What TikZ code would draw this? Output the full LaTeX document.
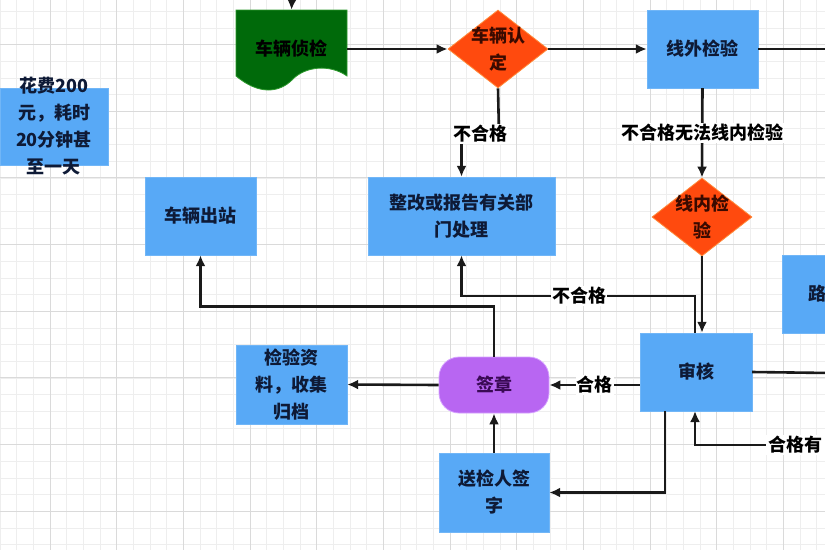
\documentclass[tikz,border=0pt]{standalone}
\usepackage{fontspec}
\newfontfamily\cjk{Noto Sans CJK SC}
\usetikzlibrary{shapes.geometric,arrows.meta}
\definecolor{boxblue}{HTML}{58A9F6}
\definecolor{boxtext}{HTML}{0E1A36}
\definecolor{docgreen}{HTML}{006A0A}
\definecolor{docedge}{HTML}{2E9A2E}
\definecolor{dia}{HTML}{FF4A0E}
\definecolor{diaedge}{HTML}{FF8A3A}
\definecolor{diatext}{HTML}{3A0A00}
\definecolor{purp}{HTML}{B866F2}
\definecolor{purpedge}{HTML}{D6A2FF}
\definecolor{purptext}{HTML}{3A0A55}
\definecolor{gridminor}{HTML}{EEEEEE}
\definecolor{gridmajor}{HTML}{DADADA}
\definecolor{lineclr}{HTML}{1A1A1A}
\begin{document}
\begin{tikzpicture}[x=1pt,y=-1pt,
  txt/.style={font=\cjk\bfseries\fontsize{18}{27}\selectfont, align=center},
  box/.style={txt, rectangle, fill=boxblue, draw=boxblue!85!white, text=boxtext, inner sep=0pt},
  dec/.style={diamond, fill=dia, draw=diaedge, line width=0.8pt, inner sep=0pt},
  dectext/.style={txt, text=diatext},
  conn/.style={draw=lineclr, line width=2.6pt},
  arr/.style={conn, -{Latex[length=11pt,width=10pt]}},
  lab/.style={txt, text=black, fill=white, inner sep=1pt}
]
\useasboundingbox (0,0) rectangle (825,550);
\fill[white] (0,0) rectangle (825,550);
% grid
\foreach \i in {-3,...,50} { \draw[gridminor, line width=0.6pt] ({50+\i*16.667},0) -- ({50+\i*16.667},550); }
\foreach \i in {-3,...,33} { \draw[gridminor, line width=0.6pt] (0,{44.5+\i*16.667}) -- (825,{44.5+\i*16.667}); }
\foreach \i in {-1,...,12} { \draw[gridmajor, line width=0.7pt] ({50+\i*66.667},0) -- ({50+\i*66.667},550); }
\foreach \i in {-1,...,8} { \draw[gridmajor, line width=0.7pt] (0,{44.5+\i*66.667}) -- (825,{44.5+\i*66.667}); }

% nodes
\node[box, minimum width=108pt, minimum height=77pt,
  label={[txt, text=boxtext]center:花费200\\元，耗时\\20分钟甚\\至一天}] (fee) at (54,126.5) {};

\fill[docgreen, draw=docedge, line width=0.8pt] (236,10) -- (347,10) -- (347,76)
  .. controls (330,64) and (305,66) .. (292,80)
  .. controls (280,92) and (260,96) .. (236,76) -- cycle;
\node[txt, minimum width=111pt, minimum height=78pt, text=black] (doc) at (291.5,49) {车辆侦检};

\node[dec, minimum width=100pt, minimum height=78pt,
  label={[dectext]center:车辆认\\定}] (chk) at (498,49) {};
\node[box, minimum width=111pt, minimum height=78pt] (out) at (702.5,49) {线外检验};
\node[box, minimum width=187pt, minimum height=78pt] (fix) at (461.5,216) {整改或报告有关部\\门处理};
\node[box, minimum width=111pt, minimum height=78pt] (exit) at (200.5,216) {车辆出站};
\node[dec, minimum width=100pt, minimum height=78pt,
  label={[dectext]center:线内检\\验}] (inl) at (702,217) {};
\node[box, minimum width=112pt, minimum height=78pt] (rev) at (696,372) {审核};
\node[box, minimum width=112pt, minimum height=78pt,
  label={[txt, text=boxtext, anchor=west, xshift=23pt]west:路}] (road) at (838,294) {};
\node[txt, rectangle, rounded corners=20pt, fill=purp, draw=purpedge, line width=0.8pt,
  text=purptext, minimum width=110pt, minimum height=56pt, inner sep=0pt] (stamp) at (494,385) {签章};
\node[box, minimum width=111pt, minimum height=79pt] (arch) at (291.5,384.5) {检验资\\料，收集\\归档};
\node[box, minimum width=110pt, minimum height=79pt] (sign) at (494,492.5) {送检人签\\字};

\coordinate (topin) at (292,-2);
\coordinate (outr) at (830,49);
\coordinate (revr) at (830,373);
\coordinate (okin) at (830,445);

% connectors
\draw[arr] (topin) -- (doc.north);
\draw[arr] (doc.east) -- (chk.west);
\draw[arr] (chk.east) -- (out.west);
\draw[conn] (out.east) -- (outr);
\draw[arr] (chk.south) -- (499,134) -| (fix.north);
\node[lab] (l1) at (480,134) {不合格};
\draw[arr] (out.south) -- node[lab] (l2) {不合格无法线内检验} (inl.north);
\draw[arr] (inl.south) -- (inl.south |- rev.north);
\draw[arr] ([xshift=-1pt]rev.north) -- ++(0,-37) -| (fix.south);
\node[lab] (l3) at (579,296) {不合格};
\draw[arr] (rev.west |- stamp.east) -- node[lab] (l4) {合格} (stamp.east);
\draw[arr] (stamp.north) -- ++(0,-50) -| (exit.south);
\draw[arr] (stamp.west) -- (arch.east);
\draw[arr] (sign.north) -- (stamp.south);
\draw[arr] ([xshift=-31pt]rev.south) |- (sign.east);
\draw[conn] (rev.east) -- (revr);
\draw[arr] (okin) -- (695,445) -- (695,411);
\node[lab, anchor=east, inner xsep=3pt] (l5) at (826,445) {合格有};
\end{tikzpicture}
\end{document}
